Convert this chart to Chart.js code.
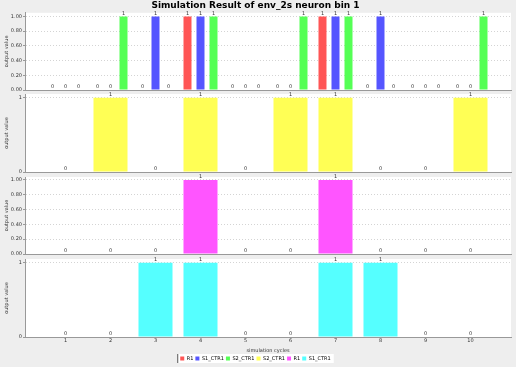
<!DOCTYPE html>
<html>
<head>
<meta charset="utf-8">
<script src="https://cdn.jsdelivr.net/npm/chart.js@4/dist/chart.umd.min.js"></script>
<style>
  html, body { margin: 0; padding: 0; background: #eeeeee; }
  #wrap { position: relative; width: 516px; height: 367px; overflow: hidden; }
  canvas { position: absolute; left: 0; }
</style>
</head>
<body>
<div id="wrap">
  <canvas id="p1" width="516" height="94" style="top:0px"></canvas>
  <canvas id="p2" width="516" height="86" style="top:90px"></canvas>
  <canvas id="p3" width="516" height="85" style="top:173px"></canvas>
  <canvas id="p4" width="516" height="112" style="top:255px"></canvas>
</div>
<script>
// simulation cycles (x axis)
const cycles = [1, 2, 3, 4, 5, 6, 7, 8, 9, 10];
const fracTicks = [0, 0.1, 0.2, 0.3, 0.4, 0.5, 0.6, 0.7, 0.8, 0.9, 1.0];
const binTicks = [0, 1];

// panel 1: three inputs
const r1In = [0, 0, 0, 1, 0, 0, 1, 0, 0, 0];
const s1CtrIn = [0, 0, 1, 1, 0, 0, 1, 1, 0, 0];
const s2CtrIn = [0, 1, 0, 1, 0, 1, 1, 0, 0, 1];
// panels 2..4: outputs
const s2CtrOut = [0, 1, 0, 1, 0, 1, 1, 0, 0, 1];
const r1Out = [0, 0, 0, 1, 0, 0, 1, 0, 0, 0];
const s1CtrOut = [0, 0, 1, 1, 0, 0, 1, 1, 0, 0];

const seriesNames = ["R1", "S1_CTR1", "S2_CTR1", "S2_CTR1", "R1", "S1_CTR1"];
const seriesColors = ["#ff5555", "#5555ff", "#55ff55", "#ffff55", "#ff55ff", "#55ffff"];

const FONT = "DejaVu Sans";
const toPoints = vals => cycles.map((c, i) => ({ x: c, y: vals[i] }));

// white plot background
const plotBg = {
  id: "plotBg",
  beforeDraw(chart) {
    const a = chart.chartArea, ctx = chart.ctx;
    ctx.save();
    ctx.fillStyle = "#ffffff";
    ctx.fillRect(a.left, a.top, a.right - a.left, a.bottom - a.top);
    ctx.restore();
  }
};

// small value labels on top of every bar
const itemLabels = {
  id: "itemLabels",
  afterDatasetsDraw(chart) {
    const ctx = chart.ctx;
    ctx.save();
    ctx.font = "5px " + FONT;
    ctx.fillStyle = "#333";
    ctx.textAlign = "center";
    ctx.textBaseline = "bottom";
    chart.data.datasets.forEach((ds, di) => {
      chart.getDatasetMeta(di).data.forEach((bar, i) => {
        ctx.fillText(String(ds.data[i].y), bar.x, bar.y - 0.5);
      });
    });
    ctx.restore();
  }
};

// keep the legend short, and put a white box behind it
const legendBox = {
  id: "legendBox",
  beforeLayout(chart) {
    const lg = chart.legend;
    if (lg && !lg._fixed) {
      const fit = lg.fit.bind(lg);
      lg.fit = function () { fit(); if (this.options.display) this.height = 13; };
      lg._fixed = true;
    }
  },
  beforeDraw(chart) {
    const lg = chart.legend;
    if (!lg || !lg.options.display || !lg.legendHitBoxes || !lg.legendHitBoxes.length) return;
    const hb = lg.legendHitBoxes;
    const x0 = Math.min(...hb.map(h => h.left)) - 3;
    const x1 = Math.max(...hb.map(h => h.left + h.width)) + 3;
    const y0 = hb[0].top - 2, y1 = hb[0].top + hb[0].height + 2;
    const ctx = chart.ctx;
    ctx.save();
    ctx.fillStyle = "#ffffff";
    ctx.fillRect(x0, y0, x1 - x0, y1 - y0);
    ctx.fillStyle = "#555";
    ctx.fillRect(x0, y0, 1, y1 - y0);
    ctx.restore();
  }
};

function makePanel(id, datasets, opts) {
  const yTicks = opts.frac ? fracTicks : binTicks;
  return new Chart(document.getElementById(id), {
    type: "bar",
    data: { datasets },
    options: {
      responsive: false,
      animation: false,
      events: [],
      categoryPercentage: opts.catPct,
      barPercentage: opts.barPct,
      layout: { padding: opts.padding },
      scales: {
        x: {
          type: "linear",
          offset: false,
          min: 0.1,
          max: 10.9,
          afterBuildTicks: s => { s.ticks = cycles.map(v => ({ value: v })); },
          afterFit: s => { s.height = opts.xHeight; },
          grid: { display: false, drawTicks: false },
          border: { color: "#999" },
          ticks: {
            display: !!opts.showX,
            font: { family: FONT, size: 5 },
            color: "#333",
            padding: 1,
            maxRotation: 0
          },
          title: {
            display: !!opts.showX,
            text: "simulation cycles",
            font: { family: FONT, size: 5 },
            color: "#333",
            padding: { top: 1, bottom: 0 }
          }
        },
        y: {
          min: 0,
          max: opts.yMax,
          afterBuildTicks: s => { s.ticks = yTicks.map(v => ({ value: v })); },
          afterFit: s => { s.width = 25; },
          grid: { color: "#d4d4d4", tickColor: "#999", tickLength: 2 },
          border: { color: "#999", dash: [1, 2] },
          ticks: {
            font: { family: FONT, size: 5 },
            color: "#333",
            padding: 1,
            callback: v => opts.frac ? v.toFixed(2) : String(v)
          },
          title: {
            display: true,
            text: "output value",
            font: { family: FONT, size: 5 },
            color: "#333",
            padding: { top: 4, bottom: 2 }
          }
        }
      },
      plugins: {
        title: {
          display: !!opts.title,
          text: opts.title || "",
          font: { family: FONT, size: 9, weight: "bold" },
          color: "#000",
          padding: { top: 0, bottom: 2 }
        },
        legend: {
          display: !!opts.legend,
          position: "bottom",
          labels: {
            font: { family: FONT, size: 5 },
            color: "#333",
            boxWidth: 4,
            boxHeight: 4,
            padding: 2,
            generateLabels: () => seriesNames.map((n, i) => ({
              text: n, fillStyle: seriesColors[i], strokeStyle: seriesColors[i], lineWidth: 0
            }))
          }
        },
        tooltip: { enabled: false }
      }
    },
    plugins: [plotBg, itemLabels, legendBox]
  });
}

function bars(label, vals, color) {
  return { label, data: toPoints(vals), backgroundColor: color, borderWidth: 0 };
}

makePanel("p1", [
  bars(seriesNames[0], r1In, seriesColors[0]),
  bars(seriesNames[1], s1CtrIn, seriesColors[1]),
  bars(seriesNames[2], s2CtrIn, seriesColors[2])
], { frac: true, yMax: 1.05, catPct: 0.867, barPct: 0.615, xHeight: 0,
     padding: { top: 0, right: 5, bottom: 4, left: 0 },
     title: "Simulation Result of env_2s neuron bin 1" });

makePanel("p2", [bars(seriesNames[3], s2CtrOut, seriesColors[3])],
  { frac: false, yMax: 1.05, catPct: 1, barPct: 0.756, xHeight: 0,
    padding: { top: 4, right: 5, bottom: 4, left: 0 } });

makePanel("p3", [bars(seriesNames[4], r1Out, seriesColors[4])],
  { frac: true, yMax: 1.04, catPct: 1, barPct: 0.756, xHeight: 0,
    padding: { top: 4, right: 5, bottom: 4, left: 0 } });

makePanel("p4", [bars(seriesNames[5], s1CtrOut, seriesColors[5])],
  { frac: false, yMax: 1.05, catPct: 1, barPct: 0.756, xHeight: 17, showX: true, legend: true,
    padding: { top: 4, right: 5, bottom: 0, left: 0 } });
</script>
</body>
</html>
